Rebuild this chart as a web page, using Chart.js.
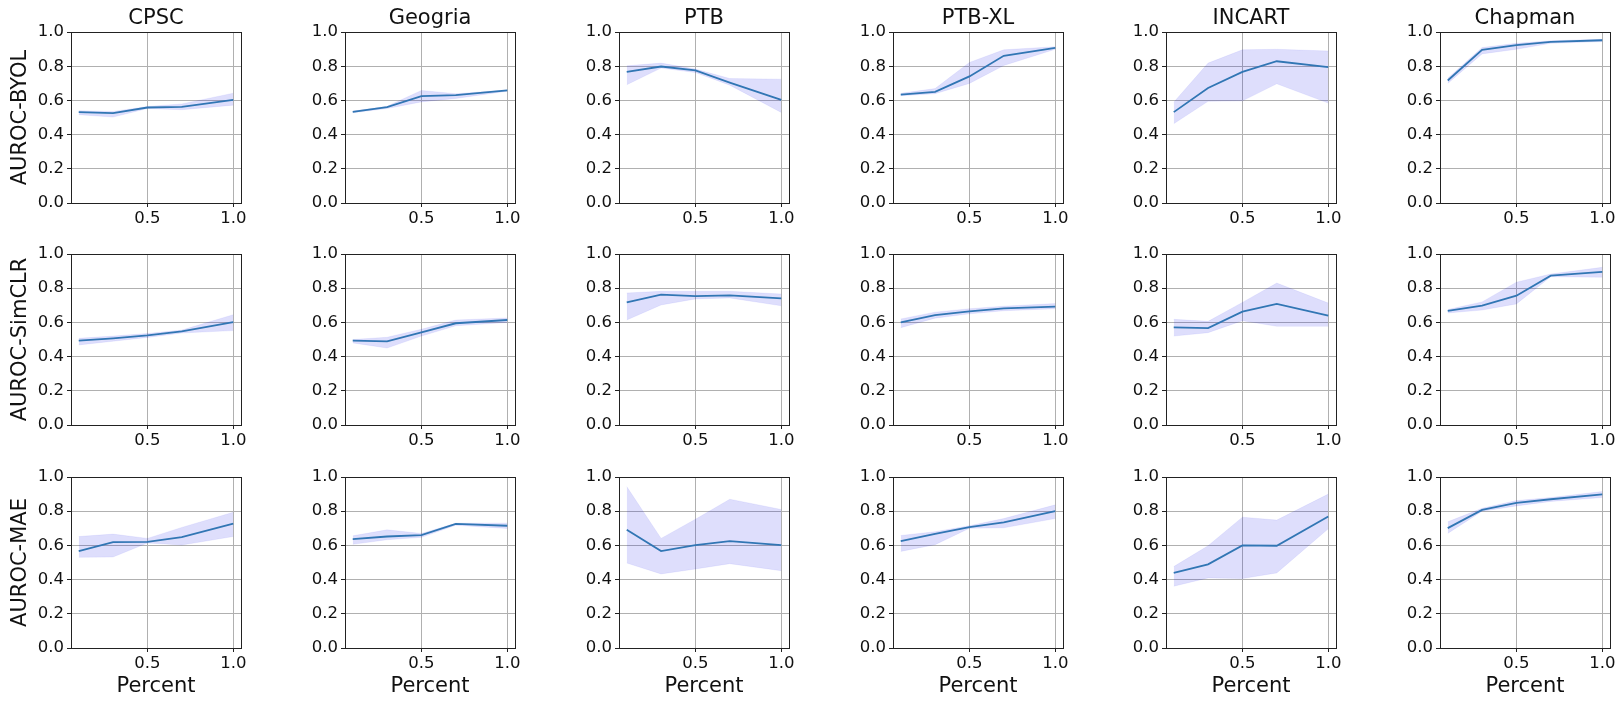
<!DOCTYPE html>
<html>
<head>
<meta charset="utf-8">
<script src="https://cdn.jsdelivr.net/npm/chart.js@4.4.1/dist/chart.umd.min.js"></script>
<style>
    body { margin: 0; background: #fff; }
    #charts { position: relative; width: 1621px; height: 703px; overflow: hidden; }
    #charts canvas { position: absolute; }
</style>
</head>
<body>
<div id="charts"></div>
<script>
let percents = [0.1, 0.3, 0.5, 0.7, 1.0]
let datasetNames = ['CPSC', 'Geogria', 'PTB', 'PTB-XL', 'INCART', 'Chapman']
let methodNames = ['AUROC-BYOL', 'AUROC-SimCLR', 'AUROC-MAE']
let xTicks = [0.5, 1.0]

// one row per dataset, one value per percent
let byolMean = [
    [0.532, 0.526, 0.559, 0.563, 0.604],
    [0.534, 0.561, 0.626, 0.632, 0.659],
    [0.768, 0.799, 0.776, 0.705, 0.604],
    [0.635, 0.651, 0.741, 0.862, 0.908],
    [0.532, 0.673, 0.768, 0.830, 0.795],
    [0.717, 0.897, 0.924, 0.943, 0.953]
]
let byolLow = [
    [0.517, 0.503, 0.553, 0.546, 0.573],
    [0.528, 0.553, 0.592, 0.612, 0.655],
    [0.692, 0.790, 0.764, 0.690, 0.530],
    [0.628, 0.640, 0.700, 0.805, 0.900],
    [0.464, 0.595, 0.598, 0.698, 0.585],
    [0.700, 0.873, 0.900, 0.935, 0.945]
]
let byolHigh = [
    [0.540, 0.536, 0.565, 0.580, 0.643],
    [0.538, 0.566, 0.659, 0.640, 0.662],
    [0.803, 0.819, 0.784, 0.729, 0.725],
    [0.642, 0.670, 0.823, 0.897, 0.915],
    [0.590, 0.819, 0.897, 0.900, 0.890],
    [0.730, 0.910, 0.935, 0.950, 0.958]
]

let simclrMean = [
    [0.493, 0.507, 0.524, 0.548, 0.602],
    [0.493, 0.489, 0.542, 0.595, 0.614],
    [0.717, 0.762, 0.754, 0.758, 0.740],
    [0.600, 0.643, 0.665, 0.682, 0.692],
    [0.571, 0.567, 0.663, 0.708, 0.639],
    [0.668, 0.698, 0.756, 0.873, 0.895]
]
let simclrLow = [
    [0.468, 0.490, 0.512, 0.538, 0.552],
    [0.480, 0.450, 0.520, 0.580, 0.600],
    [0.614, 0.702, 0.737, 0.743, 0.697],
    [0.569, 0.625, 0.650, 0.668, 0.680],
    [0.520, 0.540, 0.610, 0.577, 0.577],
    [0.655, 0.672, 0.708, 0.867, 0.864]
]
let simclrHigh = [
    [0.507, 0.520, 0.535, 0.555, 0.645],
    [0.500, 0.513, 0.560, 0.614, 0.626],
    [0.772, 0.782, 0.782, 0.782, 0.766],
    [0.620, 0.660, 0.680, 0.695, 0.710],
    [0.618, 0.606, 0.717, 0.830, 0.713],
    [0.675, 0.720, 0.835, 0.883, 0.922]
]

let maeMean = [
    [0.567, 0.619, 0.621, 0.649, 0.728],
    [0.637, 0.652, 0.660, 0.726, 0.715],
    [0.691, 0.567, 0.602, 0.625, 0.602],
    [0.625, 0.668, 0.707, 0.734, 0.800],
    [0.439, 0.489, 0.600, 0.598, 0.769],
    [0.701, 0.808, 0.849, 0.870, 0.899]
]
let maeLow = [
    [0.530, 0.532, 0.614, 0.602, 0.652],
    [0.606, 0.633, 0.647, 0.718, 0.699],
    [0.497, 0.433, 0.462, 0.493, 0.452],
    [0.565, 0.604, 0.700, 0.703, 0.757],
    [0.361, 0.410, 0.406, 0.439, 0.697],
    [0.670, 0.800, 0.831, 0.857, 0.880]
]
let maeHigh = [
    [0.652, 0.666, 0.641, 0.705, 0.794],
    [0.656, 0.691, 0.670, 0.730, 0.730],
    [0.944, 0.641, 0.753, 0.870, 0.810],
    [0.658, 0.680, 0.715, 0.757, 0.837],
    [0.476, 0.598, 0.765, 0.748, 0.900],
    [0.738, 0.817, 0.862, 0.880, 0.915]
]

let means = [byolMean, simclrMean, maeMean]
let lows = [byolLow, simclrLow, maeLow]
let highs = [byolHigh, simclrHigh, maeHigh]

// layout of the plot boxes, in page pixels
let colLefts = [71, 345, 619, 893, 1166, 1440]
let rowTops = [32, 254, 477]
let plotW = 170
let plotH = 171
let rightPad = 20
let font = 'DejaVu Sans'

// top and right spines, matplotlib style box
let framePlugin = {
    id: 'frame',
    afterDraw(chart) {
        let a = chart.chartArea
        let ctx = chart.ctx
        ctx.save()
        ctx.strokeStyle = '#222'
        ctx.lineWidth = 1
        ctx.strokeRect(Math.round(a.left) + 0.5, Math.round(a.top) + 0.5,
            Math.round(a.right - a.left), Math.round(a.bottom - a.top))
        ctx.restore()
    }
}

function toPoints(values) {
    return percents.map((p, i) => ({x: p, y: values[i]}))
}

function createCanvas(left, top, width, height) {
    let canvas = document.createElement('canvas')
    canvas.setAttribute('width', width)
    canvas.setAttribute('height', height)
    canvas.style.left = left + 'px'
    canvas.style.top = top + 'px'
    canvas.style.width = width + 'px'
    canvas.style.height = height + 'px'
    return canvas
}

function createChart(row, col) {
    let yw = col === 0 ? 71 : 52
    let topPad = row === 0 ? 32 : 14
    let xh = row === 2 ? 55 : 30
    let left = colLefts[col] - yw
    let top = rowTops[row] - topPad
    let width = yw + plotW + rightPad
    let height = topPad + plotH + xh

    let canvas = createCanvas(left, top, width, height)
    document.getElementById('charts').appendChild(canvas)

    let lineDataset = {
        data: toPoints(means[row][col]),
        borderColor: '#3176b4',
        borderWidth: 1.8,
        pointRadius: 0,
        fill: false
    }
    let lowDataset = {
        data: toPoints(lows[row][col]),
        borderColor: 'rgba(0,0,235,0.06)',
        borderWidth: 1,
        pointRadius: 0,
        fill: false
    }
    let highDataset = {
        data: toPoints(highs[row][col]),
        borderColor: 'rgba(0,0,235,0.06)',
        borderWidth: 1,
        pointRadius: 0,
        backgroundColor: 'rgba(0,0,235,0.13)',
        fill: 1
    }

    new Chart(canvas.getContext('2d'), {
        type: 'line',
        data: {
            datasets: [lineDataset, lowDataset, highDataset]
        },
        options: {
            responsive: false,
            animation: false,
            devicePixelRatio: 1,
            layout: {
                padding: {top: row === 0 ? 0 : topPad, left: 0, right: rightPad, bottom: 0}
            },
            scales: {
                x: {
                    type: 'linear',
                    min: 0.055,
                    max: 1.045,
                    afterBuildTicks: scale => {
                        scale.ticks = xTicks.map(v => ({value: v}))
                    },
                    afterFit: scale => {
                        scale.height = xh
                        scale.paddingLeft = 0
                        scale.paddingRight = 0
                    },
                    ticks: {
                        padding: 2,
                        color: '#111',
                        font: {family: font, size: 16.5},
                        callback: v => v.toFixed(1)
                    },
                    grid: {color: '#b0b0b0', lineWidth: 1, tickLength: 4, tickColor: '#222'},
                    border: {color: '#222', width: 1},
                    title: {
                        display: row === 2,
                        text: 'Percent',
                        color: '#111',
                        font: {family: font, size: 21},
                        padding: {top: 0, bottom: 4}
                    }
                },
                y: {
                    min: 0,
                    max: 1,
                    afterFit: scale => {
                        scale.width = yw
                        scale.paddingTop = 0
                        scale.paddingBottom = 0
                    },
                    ticks: {
                        stepSize: 0.2,
                        padding: 3,
                        color: '#111',
                        font: {family: font, size: 16.5},
                        callback: v => v.toFixed(1)
                    },
                    grid: {color: '#b0b0b0', lineWidth: 1, tickLength: 4, tickColor: '#222'},
                    border: {color: '#222', width: 1},
                    title: {
                        display: col === 0,
                        text: methodNames[row],
                        color: '#111',
                        font: {family: font, size: 21},
                        padding: {top: 8, bottom: 0}
                    }
                }
            },
            plugins: {
                legend: {display: false},
                tooltip: {enabled: false},
                title: {
                    display: row === 0,
                    fullSize: false,
                    text: datasetNames[col],
                    color: '#111',
                    font: {family: font, size: 21, weight: 'normal'},
                    padding: {top: 6, bottom: 1}
                }
            }
        },
        plugins: [framePlugin]
    })
}

for (let row = 0; row < 3; row++) {
    for (let col = 0; col < 6; col++) {
        createChart(row, col)
    }
}
</script>
</body>
</html>
